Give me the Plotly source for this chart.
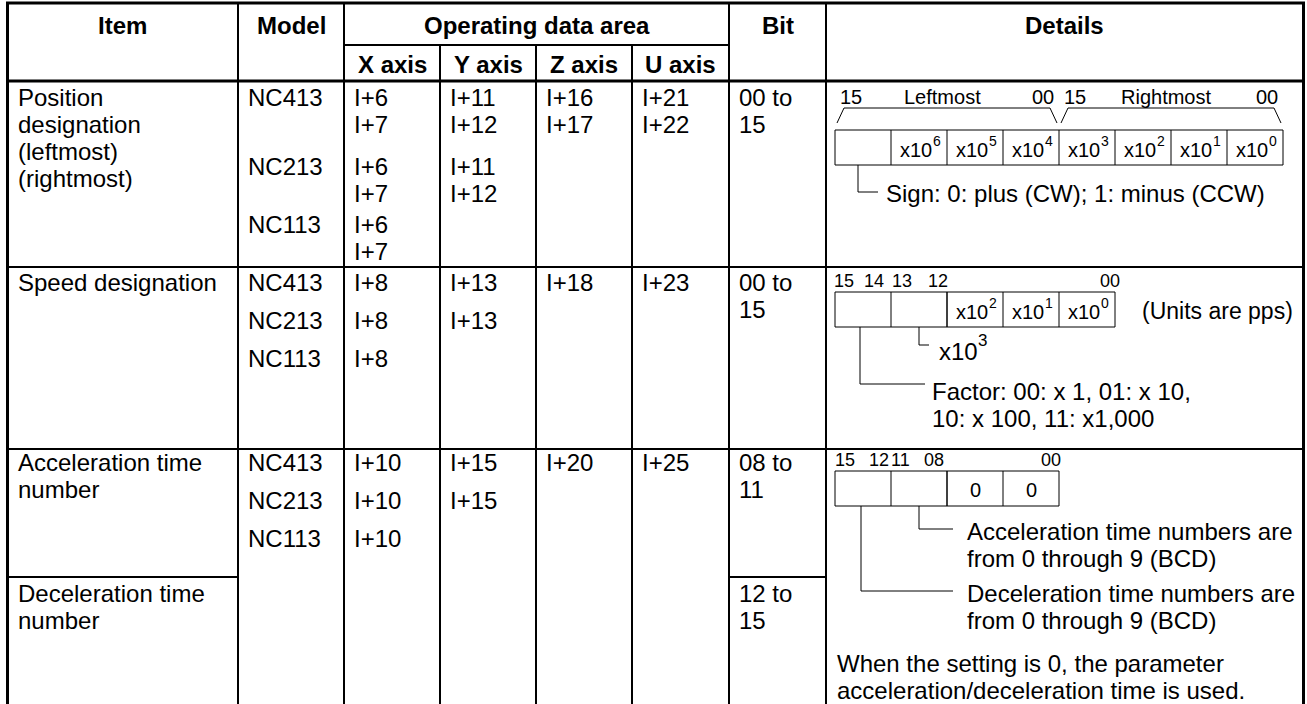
import plotly.graph_objects as go

# ---------------- data (table content) ----------------
header_top = ["Item", "Model", "Operating data area", "Bit", "Details"]
axis_names = ["X axis", "Y axis", "Z axis", "U axis"]
models = ["NC413", "NC213", "NC113"]
item_position = ["Position", "designation", "(leftmost)", "(rightmost)"]
item_speed = ["Speed designation"]
item_accel = ["Acceleration time", "number"]
item_decel = ["Deceleration time", "number"]
# word offsets (I+n) per model, per axis
position_words = [[(6, 7), (11, 12), (16, 17), (21, 22)], [(6, 7), (11, 12)], [(6, 7)]]
speed_words = [[8, 13, 18, 23], [8, 13], [8]]
accel_words = [[10, 15, 20, 25], [10, 15], [10]]
bits_position = ["00 to", "15"]
bits_speed = ["00 to", "15"]
bits_accel = ["08 to", "11"]
bits_decel = ["12 to", "15"]
pos_exponents = [6, 5, 4, 3, 2, 1, 0]
speed_exponents = [2, 1, 0]
accel_cells = ["", "", "0", "0"]
pos_bit_labels = [("15", "Leftmost", "00"), ("15", "Rightmost", "00")]
speed_bit_labels = ["15", "14", "13", "12", "00"]
accel_bit_labels = ["15", "12", "11", "08", "00"]
sign_text = "Sign: 0: plus (CW); 1: minus (CCW)"
units_text = "(Units are pps)"
speed_x3_exp = 3
factor_text = ["Factor: 00: x 1, 01: x 10,", "10: x 100, 11: x1,000"]
acc_note = ["Acceleration time numbers are", "from 0 through 9 (BCD)"]
dec_note = ["Deceleration time numbers are", "from 0 through 9 (BCD)"]
zero_note = ["When the setting is 0, the parameter", "acceleration/deceleration time is used."]

# ---------------- layout constants ----------------
W, H = 1307, 704
COLS = [7.5, 238, 344, 440, 536, 632, 729, 826, 1303.5]
Y_TOP, Y_SUB, Y_HEAD = 3, 45, 81
Y_R1, Y_R2, Y_ACC, Y_BOT = 267, 449, 577, 704
PAD = 8
FONT = "Liberation Sans, Arial, Helvetica, sans-serif"
FS, FS_S, FS_L, FS_C, FS_E = 24, 20, 18, 20, 14
LH = 27
INK = "black"

shapes = []
annots = []


def hline(x0, x1, y, w=2):
    shapes.append(dict(type="line", x0=x0, x1=x1, y0=y, y1=y, line=dict(color=INK, width=w)))


def vline(x, y0, y1, w=2):
    shapes.append(dict(type="line", x0=x, x1=x, y0=y0, y1=y1, line=dict(color=INK, width=w)))


def poly(pts, w=1):
    path = "M " + " L ".join(f"{x},{y}" for x, y in pts)
    shapes.append(dict(type="path", path=path, line=dict(color=INK, width=w)))


def text(x, y, s, size=FS, anchor="left", bold=False):
    annots.append(dict(x=x, y=y, text=s, showarrow=False, xanchor=anchor, yanchor="middle",
                       font=dict(family=FONT, size=size, color=INK,
                                 weight="bold" if bold else "normal"),
                       xref="x", yref="y"))


def pow10(xl, y, e, size=FS_C):
    """'x10' followed by a raised exponent, left edge at xl."""
    text(xl, y, "x10", size=size)
    text(xl + 1.612 * size + 0.5, y - 0.42 * size, str(e), size=round(size * 0.7))


# ---------------- grid ----------------
hline(COLS[0] - 1.5, COLS[-1] + 1.5, Y_TOP, 3)
hline(COLS[2], COLS[6], Y_SUB, 2)
hline(COLS[0], COLS[-1], Y_HEAD, 3)
hline(COLS[0], COLS[-1], Y_R1, 2)
hline(COLS[0], COLS[-1], Y_R2, 2)
hline(COLS[0], COLS[1], Y_ACC, 2)
hline(COLS[6], COLS[7], Y_ACC, 2)
vline(COLS[0], Y_TOP, Y_BOT, 3)
vline(COLS[-1], Y_TOP, Y_BOT, 3)
for c in (COLS[1], COLS[2], COLS[6], COLS[7]):
    vline(c, Y_TOP, Y_BOT, 2)
for c in COLS[3:6]:
    vline(c, Y_SUB, Y_BOT, 2)

# ---------------- header ----------------
hy1, hy2 = (Y_TOP + Y_SUB) / 2 + 1, (Y_SUB + Y_HEAD) / 2 + 1
text((COLS[0] + COLS[1]) / 2, hy1, header_top[0], anchor="center", bold=True)
text((COLS[1] + COLS[2]) / 2, hy1, header_top[1], anchor="center", bold=True)
text((COLS[2] + COLS[6]) / 2, hy1, header_top[2], anchor="center", bold=True)
text((COLS[6] + COLS[7]) / 2, hy1, header_top[3], anchor="center", bold=True)
text((COLS[7] + COLS[8]) / 2, hy1, header_top[4], anchor="center", bold=True)
for i, a in enumerate(axis_names):
    text((COLS[2 + i] + COLS[3 + i]) / 2, hy2, a, anchor="center", bold=True)

# ---------------- row 1: position ----------------
r1 = Y_HEAD + 16
for k, s in enumerate(item_position):
    text(COLS[0] + PAD, r1 + k * LH, s)
pos_model_y = [r1, r1 + 69, r1 + 127]
for m, ym in enumerate(pos_model_y):
    text(COLS[1] + PAD, ym, models[m])
    for a, pair in enumerate(position_words[m]):
        for j, n in enumerate(pair):
            text(COLS[2 + a] + PAD, ym + j * LH, f"I+{n}")
for j, s in enumerate(bits_position):
    text(COLS[6] + PAD, r1 + j * LH, s)

# position diagram
DX, CW = 835, 56
bx_top, bx_bot = 130, 165
ncell = len(pos_exponents) + 1
shapes.append(dict(type="rect", x0=DX, x1=DX + ncell * CW, y0=bx_top, y1=bx_bot, line=dict(color=INK, width=1)))
for k in range(1, ncell):
    vline(DX + k * CW, bx_top, bx_bot, 1)
for k, e in enumerate(pos_exponents):
    pow10(DX + (k + 1.5) * CW - 21, (bx_top + bx_bot) / 2 + 2, e)
# brackets
for g, (lo, name, hi) in enumerate(pos_bit_labels):
    xl = DX + g * 4 * CW + 2
    xr = DX + (g + 1) * 4 * CW - 2
    poly([(xl, 123), (xl + 7, 108), (xr - 7, 108), (xr, 123)])
    text(xl + 1, 97, lo, size=FS_S, anchor="left")
    text((xl + xr) / 2 - 5, 97, name, size=FS_S, anchor="center")
    text(xr - 1, 97, hi, size=FS_S, anchor="right")
# sign connector
sx = DX + 23
poly([(sx, bx_bot), (sx, 192), (sx + 20, 192)])
text(sx + 26, 193, sign_text)

# ---------------- row 2: speed ----------------
r2 = Y_R1 + 15
text(COLS[0] + PAD, r2, item_speed[0])
MS = 38
for m in range(3):
    text(COLS[1] + PAD, r2 + m * MS, models[m])
    for a, n in enumerate(speed_words[m]):
        text(COLS[2 + a] + PAD, r2 + m * MS, f"I+{n}")
for j, s in enumerate(bits_speed):
    text(COLS[6] + PAD, r2 + j * LH, s)

sb_top, sb_bot = 292, 327
ns = len(speed_exponents) + 2
shapes.append(dict(type="rect", x0=DX, x1=DX + ns * CW, y0=sb_top, y1=sb_bot, line=dict(color=INK, width=1)))
for k in range(1, ns):
    vline(DX + k * CW, sb_top, sb_bot, 1.5 if k == 2 else 1)
for k, e in enumerate(speed_exponents):
    pow10(DX + (k + 2.5) * CW - 21, (sb_top + sb_bot) / 2 + 2, e)
text(COLS[-1] - 9, (sb_top + sb_bot) / 2 + 1, units_text, size=23, anchor="right")
lbl_x = [DX + 9, DX + 39, DX + 67, DX + 103, DX + ns * CW - 5]
for k, s in enumerate(speed_bit_labels):
    text(lbl_x[k], r2 - 1, s, size=FS_L, anchor="center")
c1x = DX + 1.5 * CW
poly([(c1x, sb_bot), (c1x, 345), (c1x + 10, 345)])
pow10(c1x + 18, 351, speed_x3_exp, size=FS)
c2x = DX + 25
poly([(c2x, sb_bot), (c2x, 384), (c2x + 65, 384)])
for j, s in enumerate(factor_text):
    text(c2x + 70, 391 + j * LH, s)

# ---------------- row 3: accel / decel ----------------
r3 = Y_R2 + 13
for k, s in enumerate(item_accel):
    text(COLS[0] + PAD, r3 + k * LH, s)
for m in range(3):
    text(COLS[1] + PAD, r3 + m * MS, models[m])
    for a, n in enumerate(accel_words[m]):
        text(COLS[2 + a] + PAD, r3 + m * MS, f"I+{n}")
for j, s in enumerate(bits_accel):
    text(COLS[6] + PAD, r3 + j * LH, s)
r4 = Y_ACC + 16
for k, s in enumerate(item_decel):
    text(COLS[0] + PAD, r4 + k * LH, s)
for j, s in enumerate(bits_decel):
    text(COLS[6] + PAD, r4 + j * LH, s)

ab_top, ab_bot = 471, 506
na = len(accel_cells)
shapes.append(dict(type="rect", x0=DX, x1=DX + na * CW, y0=ab_top, y1=ab_bot, line=dict(color=INK, width=1)))
for k in range(1, na):
    vline(DX + k * CW, ab_top, ab_bot, 1.5 if k == 2 else 1)
for k, s in enumerate(accel_cells):
    if s:
        text(DX + (k + 0.5) * CW, (ab_top + ab_bot) / 2 + 1, s, size=FS_C, anchor="center")
albl_x = [DX + 10, DX + 44, DX + 65, DX + 99, DX + na * CW - 8]
for k, s in enumerate(accel_bit_labels):
    text(albl_x[k], r3 - 2, s, size=FS_L, anchor="center")
a1x = DX + 1.5 * CW
poly([(a1x, ab_bot), (a1x, 529), (DX + 118, 529)])
for j, s in enumerate(acc_note):
    text(DX + 130, 531 + j * LH, s)
a2x = DX + 26
poly([(a2x, ab_bot), (a2x, 591), (DX + 118, 591)])
for j, s in enumerate(dec_note):
    text(DX + 130, 593 + j * LH, s)
for j, s in enumerate(zero_note):
    text(DX, 663 + j * LH, s)

fig = go.Figure()
fig.update_layout(
    width=W, height=H, margin=dict(l=0, r=0, t=0, b=0),
    paper_bgcolor="white", plot_bgcolor="white",
    xaxis=dict(range=[0, W], visible=False, fixedrange=True),
    yaxis=dict(range=[H, 0], visible=False, fixedrange=True),
    shapes=shapes, annotations=annots, showlegend=False,
)
fig.write_html("out.html", config={"displayModeBar": False},
               post_script="document.body.style.margin='0';document.body.style.overflow='hidden';")
